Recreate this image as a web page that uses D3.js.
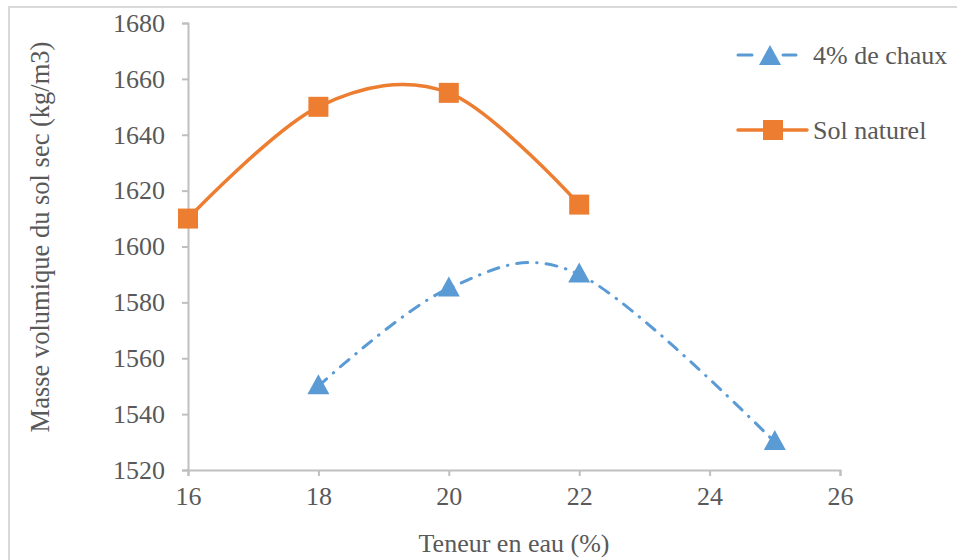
<!DOCTYPE html>
<html><head><meta charset="utf-8">
<script src="https://cdn.jsdelivr.net/npm/d3@7"></script>
<style>
html,body{margin:0;padding:0;background:#fff;}
text{font-family:"Liberation Serif","Times New Roman",serif;fill:#595959;}
</style></head>
<body>
<svg id="chart" width="957" height="560"></svg>
<script>
const xTicks = [16, 18, 20, 22, 24, 26];
const yTicks = [1520, 1540, 1560, 1580, 1600, 1620, 1640, 1660, 1680];
const solX = [16, 18, 20, 22];
const solY = [1610, 1650, 1655, 1615];
const chauxX = [18, 20, 22, 25];
const chauxY = [1550, 1585, 1590, 1530];
const seriesNames = ["4% de chaux", "Sol naturel"];
const xTitle = "Teneur en eau (%)";
const yTitle = "Masse volumique du sol sec (kg/m3)";

const svg = d3.select("#chart");
const blue = "#5b9bd5", orange = "#ed7d31", axisCol = "#bfbfbf";
const FS = "26px";

// outer border
svg.append("rect").attr("x", 9).attr("y", 7).attr("width", 960).attr("height", 570)
  .attr("fill", "none").attr("stroke", "#d9d9d9").attr("stroke-width", 2);

const x = d3.scaleLinear().domain([16, 26]).range([188, 840]);
const y = d3.scaleLinear().domain([1520, 1680]).range([470, 23]);

const xAxis = svg.append("g").attr("transform", "translate(0,470)")
  .call(d3.axisBottom(x).tickValues(xTicks).tickSize(6).tickPadding(11).tickFormat(d3.format("d")));
const yAxis = svg.append("g").attr("transform", "translate(188,0)")
  .call(d3.axisLeft(y).tickValues(yTicks).tickSize(6).tickPadding(17).tickFormat(d3.format("d")));
[xAxis, yAxis].forEach(a => {
  a.select(".domain").attr("stroke", axisCol).attr("stroke-width", 2);
  a.selectAll(".tick line").attr("stroke", axisCol).attr("stroke-width", 2);
  a.selectAll("text").style("font-family", "'Liberation Serif', serif").style("font-size", FS).attr("fill", "#595959");
});

svg.append("text").attr("x", 514).attr("y", 552).attr("text-anchor", "middle")
  .style("font-size", FS).text(xTitle);
svg.append("text").attr("transform", "translate(49,237) rotate(-90)").attr("text-anchor", "middle")
  .style("font-size", "26.5px").text(yTitle);

const line = d3.line().x(d => x(d[0])).y(d => y(d[1])).curve(d3.curveCardinal.tension(0));
const solData = solX.map((v, i) => [v, solY[i]]);
const chauxData = chauxX.map((v, i) => [v, chauxY[i]]);

svg.append("path").datum(chauxData).attr("d", line).attr("fill", "none")
  .attr("stroke", blue).attr("stroke-width", 3).attr("stroke-linecap", "round")
  .attr("stroke-dasharray", "11,9,0.5,9");
svg.append("path").datum(solData).attr("d", line).attr("fill", "none")
  .attr("stroke", orange).attr("stroke-width", 3.5).attr("stroke-linecap", "round");

function triPath(cx, cy) {
  return `M${cx},${cy - 12}L${cx + 11},${cy + 8}L${cx - 11},${cy + 8}Z`;
}
svg.selectAll(".tri").data(chauxData).join("path").attr("class", "tri")
  .attr("d", d => triPath(x(d[0]), y(d[1]))).attr("fill", blue);
svg.selectAll(".sq").data(solData).join("rect").attr("class", "sq")
  .attr("x", d => x(d[0]) - 10).attr("y", d => y(d[1]) - 10)
  .attr("width", 20).attr("height", 20).attr("fill", orange);

// legend
const lg = svg.append("g");
lg.append("line").attr("x1", 738).attr("x2", 752).attr("y1", 55).attr("y2", 55)
  .attr("stroke", blue).attr("stroke-width", 3).attr("stroke-linecap", "round");
lg.append("line").attr("x1", 783).attr("x2", 796).attr("y1", 55).attr("y2", 55)
  .attr("stroke", blue).attr("stroke-width", 3).attr("stroke-linecap", "round");
lg.append("path").attr("d", triPath(770, 57)).attr("fill", blue);
lg.append("text").attr("x", 813).attr("y", 64).style("font-size", FS).text(seriesNames[0]);
lg.append("line").attr("x1", 738).attr("x2", 807).attr("y1", 130).attr("y2", 130)
  .attr("stroke", orange).attr("stroke-width", 3.5).attr("stroke-linecap", "round");
lg.append("rect").attr("x", 763).attr("y", 120).attr("width", 20).attr("height", 20).attr("fill", orange);
lg.append("text").attr("x", 813).attr("y", 139).style("font-size", FS).text(seriesNames[1]);
</script>
</body></html>
